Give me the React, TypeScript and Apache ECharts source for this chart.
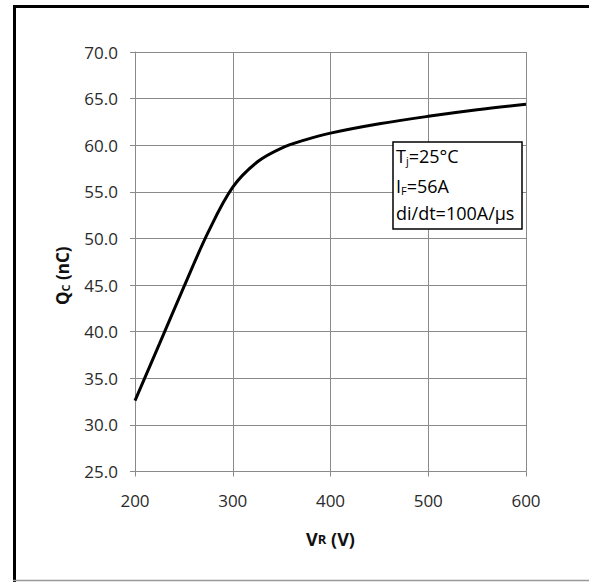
import React, { useEffect, useRef } from "react";
import * as echarts from "echarts";

const vrValues = [200, 225, 250, 275, 300, 325, 350, 375, 400, 450, 500, 550, 600];
const qcValues = [32.6, 38.7, 44.8, 50.7, 55.5, 58.2, 59.7, 60.6, 61.3, 62.3, 63.1, 63.8, 64.4];
const legendLines = ["{a|T}{s|j}{a|=25°C}", "{a|I}{s|F}{a|=56A}", "{a|di/dt=100A/µs}"];

const FONT = "'Open Sans', 'Liberation Sans', sans-serif";
const GRID_COLOR = "#8a8a8a";
const TEXT_COLOR = "#2a2a2a";

export default function App() {
  const ref = useRef<HTMLDivElement>(null);
  useEffect(() => {
    if (!ref.current) return;
    const chart = echarts.init(ref.current, undefined, { renderer: "svg" });
    const richLegend = {
      a: { fontFamily: FONT, fontSize: 18, color: "#111" },
      s: { fontFamily: FONT, fontSize: 11, color: "#111", verticalAlign: "bottom", padding: [8, 0, 0, 0] },
    };
    chart.setOption({
      animation: false,
      backgroundColor: "#ffffff",
      grid: { left: 135, right: 63, top: 52, bottom: 110.5, containLabel: false },
      xAxis: {
        type: "value",
        min: 200,
        max: 600,
        interval: 100,
        name: "{b|V}{c|R}{b| (V)}",
        nameLocation: "middle",
        nameGap: 58,
        nameTextStyle: {
          rich: {
            b: { fontFamily: FONT, fontSize: 18, fontWeight: "bold", color: "#111" },
            c: { fontFamily: FONT, fontSize: 13, fontWeight: "bold", color: "#111" },
          },
        },
        axisLine: { show: true, lineStyle: { color: GRID_COLOR, width: 1 } },
        axisTick: { show: true, length: 5, lineStyle: { color: GRID_COLOR } },
        splitLine: { show: true, lineStyle: { color: GRID_COLOR, width: 1 } },
        axisLabel: { fontFamily: FONT, fontSize: 17, color: TEXT_COLOR, margin: 20 },
      },
      yAxis: {
        type: "value",
        min: 25,
        max: 70,
        interval: 5,
        name: "{q|Q}{r|C}{q| (nC)}",
        nameLocation: "middle",
        nameGap: 64,
        nameTextStyle: {
          padding: [0, 28, 0, 0],
          rich: {
            q: { fontFamily: FONT, fontSize: 17, fontWeight: "bold", color: "#111" },
            r: { fontFamily: FONT, fontSize: 11, fontWeight: "bold", color: "#111", verticalAlign: "bottom", padding: [7, 0, 0, 0] },
          },
        },
        axisLine: { show: true, lineStyle: { color: GRID_COLOR, width: 1 } },
        axisTick: { show: true, length: 5, lineStyle: { color: GRID_COLOR } },
        splitLine: { show: true, lineStyle: { color: GRID_COLOR, width: 1 } },
        axisLabel: {
          fontFamily: FONT,
          fontSize: 17,
          color: TEXT_COLOR,
          margin: 17,
          formatter: (v: number) => v.toFixed(1),
        },
      },
      series: [
        {
          type: "line",
          data: vrValues.map((v, i) => [v, qcValues[i]]),
          smooth: 0.35,
          showSymbol: false,
          lineStyle: { color: "#000", width: 3 },
        },
      ],
      graphic: [
        { type: "line", shape: { x1: 14.5, y1: 5, x2: 14.5, y2: 582 }, style: { stroke: "#000", lineWidth: 3 } },
        { type: "line", shape: { x1: 13, y1: 6.5, x2: 589, y2: 6.5 }, style: { stroke: "#000", lineWidth: 3 } },
        { type: "line", shape: { x1: 13, y1: 580.5, x2: 589, y2: 580.5 }, style: { stroke: "#999", lineWidth: 1.5 } },
        {
          type: "rect",
          shape: { x: 393, y: 142, width: 129, height: 87 },
          style: { fill: "#fff", stroke: "#000", lineWidth: 1.5 },
          z: 10,
        },
        ...legendLines.map((t, i) => ({
          type: "text",
          x: 396,
          y: [156, 186, 213][i],
          z: 11,
          style: { text: t, rich: richLegend, verticalAlign: "middle", align: "left" },
        })),
      ],
    });
    return () => chart.dispose();
  }, []);
  return <div ref={ref} style={{ width: 589, height: 582, position: "absolute", left: 0, top: 0 }} />;
}
